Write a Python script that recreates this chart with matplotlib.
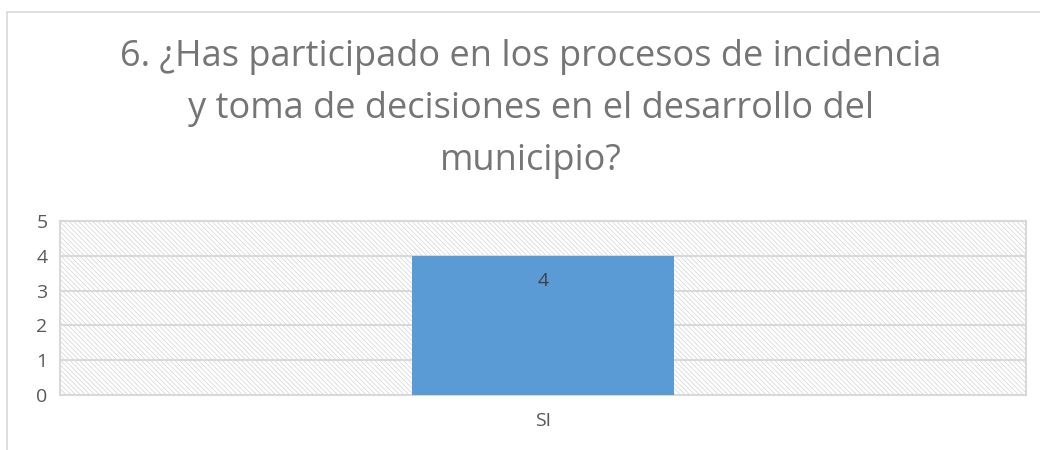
import matplotlib
matplotlib.use("Agg")
import matplotlib.pyplot as plt
from matplotlib.patches import Rectangle

plt.rcParams['font.family'] = ['Open Sans', 'DejaVu Sans']
plt.rcParams['hatch.linewidth'] = 0.5

# data
categories = ["SI"]
values = [4]
yticks = [0, 1, 2, 3, 4, 5]
title = "6. ¿Has participado en los procesos de incidencia\ny toma de decisiones en el desarrollo del\nmunicipio?"

grid_col = '#d9d9d9'
text_col = '#595959'

fig = plt.figure(figsize=(10.4, 4.5), dpi=100)
W, H = 1040, 450

# chart border (only left and top visible)
fig.patches.append(Rectangle((7 / W, -0.1), 1.2, (450 - 12) / H + 0.1,
                             transform=fig.transFigure, fill=False,
                             edgecolor=grid_col, linewidth=1.2))

ax = fig.add_axes([60 / W, (450 - 395) / H, (1026 - 60) / W, (395 - 221) / H])
ax.patch.set_facecolor('white')
ax.patch.set_edgecolor('#d4d4d4')
ax.patch.set_hatch('\\' * 7)
ax.patch.set_linewidth(0)

x = list(range(len(categories)))
bars = ax.bar(x, values, width=0.272, color='#5B9BD5', zorder=3)
for b, v in zip(bars, values):
    ax.annotate(str(v), (b.get_x() + b.get_width() / 2, v), xytext=(0, -12),
                textcoords='offset points', ha='center', va='top',
                fontsize=14, color='#404040', zorder=4)

ax.set_xlim(-0.5, len(categories) - 0.5)
ax.set_ylim(0, 5)
ax.set_yticks(yticks)
ax.set_xticks(x)
ax.set_xticklabels(categories)
ax.yaxis.grid(True, color=grid_col, linewidth=1.5, zorder=1)
ax.set_axisbelow(True)
for s in ax.spines.values():
    s.set_color(grid_col)
    s.set_linewidth(1.5)
ax.tick_params(axis='both', length=0, labelsize=14, colors=text_col)
ax.tick_params(axis='y', pad=9)
ax.tick_params(axis='x', pad=12)

fig.text(531 / W, 1 - 39 / H, title, ha='center', va='top', fontsize=26,
         color='#757575', linespacing=1.6)

fig.savefig('out.png', dpi=100)
